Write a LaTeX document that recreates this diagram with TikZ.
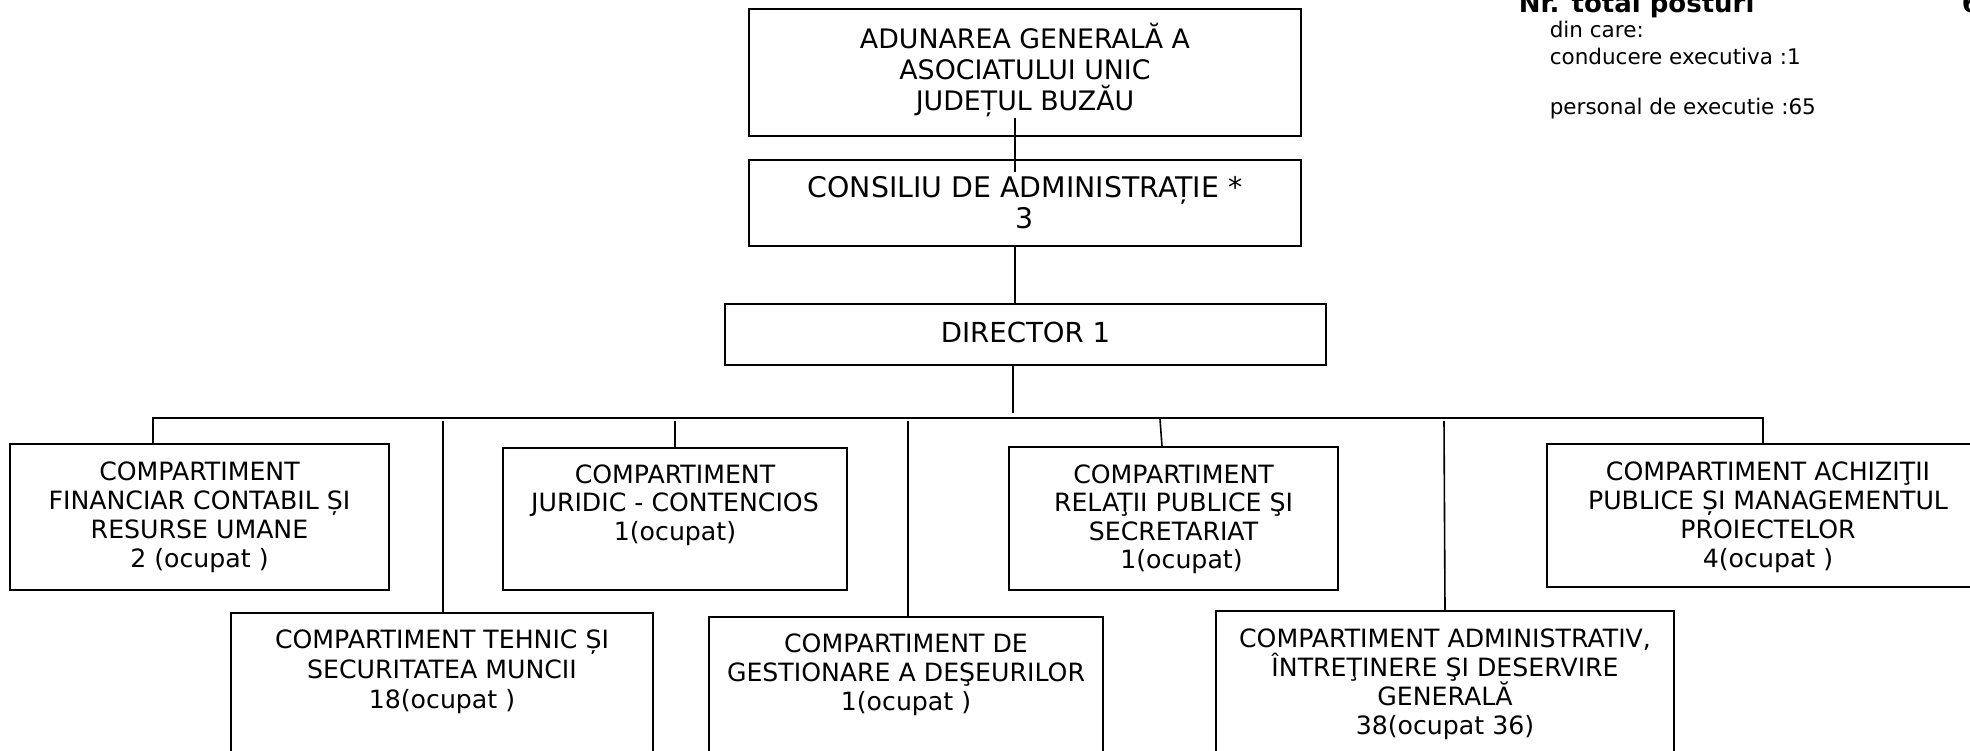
\documentclass[tikz,border=0pt]{standalone}
\usepackage{fontspec}
\setmainfont{DejaVu Sans}
\newcommand\blines[6]{\foreach [count=\i] \l in {#6} {\node[ln,#5] (#1-\i) at ({#2},{#3+(\i-1)*#4}) {\l};}}
\begin{document}
\begin{tikzpicture}[x=1pt,y=-1pt,line width=1.6pt,
  box/.style={draw,rectangle,inner sep=0pt,line width=1.6pt},
  ln/.style={anchor=base,inner sep=0pt},
  lnw/.style={anchor=base west,inner sep=0pt},
  topf/.style={font={\fontsize{26.8}{31}\selectfont}},
  consf/.style={font={\fontsize{28.4}{31}\selectfont}},
  dirf/.style={font={\fontsize{27.6}{31}\selectfont}},
  botf/.style={font={\fontsize{25.2}{29}\selectfont}},
  smallf/.style={font={\fontsize{21.5}{25}\selectfont}},
  boldf/.style={font={\bfseries\fontsize{26}{30}\selectfont}}]
\useasboundingbox (0,0) rectangle (1970,750);
\clip (0,0) rectangle (1970,750);
% boxes
\node[box,minimum width=552pt,minimum height=127pt] (top) at (1025,72.5) {};
\node[box,minimum width=552pt,minimum height=86pt] (cons) at (1025,203) {};
\node[box,minimum width=601pt,minimum height=61pt] (dir) at (1025.5,334.5) {};
\node[box,minimum width=379pt,minimum height=146pt] (fin) at (199.5,517) {};
\node[box,minimum width=344pt,minimum height=142pt] (jur) at (675,519) {};
\node[box,minimum width=329pt,minimum height=143pt] (rel) at (1173.5,518.5) {};
\node[box,minimum width=442pt,minimum height=143pt] (ach) at (1768,515.5) {};
\node[box,minimum width=422pt,minimum height=157pt] (teh) at (442,691.5) {};
\node[box,minimum width=394pt,minimum height=153pt] (des) at (906,693.5) {};
\node[box,minimum width=458pt,minimum height=159pt] (adm) at (1445,690.5) {};
% texts
\blines{ttop}{1025}{48.5}{31}{topf}{ADUNAREA GENERALĂ A,ASOCIATULUI UNIC,JUDEȚUL BUZĂU}
\blines{tcons}{1025}{197.5}{31}{consf}{CONSILIU DE ADMINISTRAȚIE *,3}
\blines{tdir}{1025.5}{342.5}{31}{dirf}{DIRECTOR 1}
\blines{tfin}{199.5}{480}{29}{botf}{COMPARTIMENT,FINANCIAR CONTABIL ȘI,RESURSE UMANE,2 (ocupat )}
\blines{tjur}{675}{483}{28.7}{botf}{COMPARTIMENT,JURIDIC - CONTENCIOS,1(ocupat)}
\blines{trel}{1173.5}{483}{28.5}{botf}{COMPARTIMENT,RELAŢII PUBLICE ŞI,SECRETARIAT,\hspace*{16pt}1(ocupat)}
\blines{tach}{1768}{480}{29}{botf}{COMPARTIMENT ACHIZIŢII,PUBLICE ȘI MANAGEMENTUL,PROIECTELOR,4(ocupat )}
\blines{tteh}{442}{648}{30}{botf}{COMPARTIMENT TEHNIC ȘI,SECURITATEA MUNCII,18(ocupat )}
\blines{tdes}{906}{652}{29}{botf}{COMPARTIMENT DE,GESTIONARE A DEŞEURILOR,1(ocupat )}
\blines{tadm}{1445}{647}{29.3}{botf}{{COMPARTIMENT ADMINISTRATIV,},ÎNTREŢINERE ŞI DESERVIRE,GENERALĂ,38(ocupat 36)}
% top-right summary
\node[lnw,boldf] (nrt) at (1518,12) {Nr. total posturi};
\node[lnw,boldf] (nrv) at (1961,12) {6};
\node[lnw,smallf] (s1) at (1549,37) {din care:};
\node[lnw,smallf] (s2) at (1549,64) {conducere executiva :1};
\node[lnw,smallf] (s3) at (1549,114) {personal de executie :65};
% connectors
\coordinate (c1) at (1015,118);
\coordinate (c2) at (1015,172);
\draw (c1) -- (c2);
\draw (cons.south -| c1) -- (dir.north -| c1);
\coordinate (dstub) at (1013,413);
\draw (dir.south -| dstub) -- (dstub);
\coordinate (busL) at (153,418);
\coordinate (busR) at (1763,418);
\coordinate (busT) at (0,421);
\draw (fin.north -| busL) -- (busL) -- (busR) -- (ach.north -| busR);
\draw (jur.north |- busT) -- (jur.north);
\coordinate (xteh) at (443,0);
\draw (xteh |- busT) -- (teh.north -| xteh);
\coordinate (xdes) at (908,0);
\draw (xdes |- busT) -- (des.north -| xdes);
\coordinate (relA) at (1160,419);
\coordinate (xrel) at (1162,0);
\draw (relA) -- (rel.north -| xrel);
\coordinate (admA) at (1444,421);
\coordinate (xadm) at (1445,0);
\draw (admA) -- (adm.north -| xadm);
\end{tikzpicture}
\end{document}
